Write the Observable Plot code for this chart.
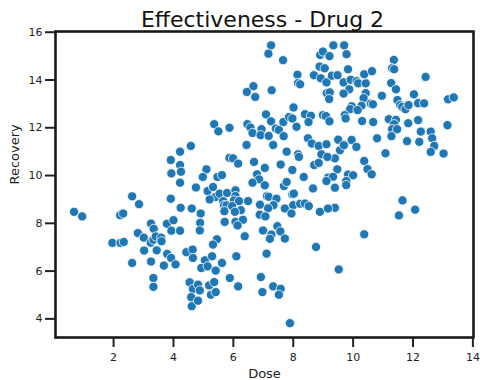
<!DOCTYPE html>
<html>
<head>
<meta charset="utf-8">
<script src="https://cdn.jsdelivr.net/npm/d3@7"></script>
<script src="https://cdn.jsdelivr.net/npm/@observablehq/plot@0.6"></script>
<style>
  html, body { margin: 0; padding: 0; background: white; }
</style>
</head>
<body>
<div id="chart"></div>
<script>
const title = "Effectiveness - Drug 2";
const xLabel = "Dose";
const yLabel = "Recovery";
const xTicks = [2, 4, 6, 8, 10, 12, 14];
const yTicks = [4, 6, 8, 10, 12, 14, 16];

const dose = [
  7.26,7.17,7.66,8.14,8.69,8.16,8.23,6.67,6.45,6.73,7.28,8.01,7.09,7.26,7.67,7.86,7.97,8.39,8.59,8.51,8.99,9.09,9.21,
  5.36,5.50,5.87,6.47,6.57,6.64,6.94,6.91,7.18,7.42,7.52,7.68,8.11,9.34,8.90,8.99,9.21,8.88,9.05,8.92,9.11,9.12,9.22,9.20,9.29,
  9.70,9.78,9.83,9.48,9.68,9.92,10.12,10.17,10.42,10.37,10.63,9.87,9.68,10.42,10.35,10.28,9.95,9.90,10.15,10.59,10.66,9.72,9.75,10.30,10.67,
  10.96,11.36,11.30,11.37,11.27,11.43,11.48,11.57,11.64,11.75,11.85,12.03,12.17,12.37,12.42,11.19,11.43,11.37,11.30,11.47,11.84,12.17,12.26,12.59,13.15,13.17,13.36,
  9.50,9.95,9.56,9.69,10.11,10.80,11.28,11.80,12.21,12.64,12.71,12.59,13.02,11.08,10.37,10.48,10.62,9.39,9.47,9.83,10.00,9.77,9.77,9.39,9.39,11.65,12.07,11.53,10.37,9.52,
  4.58,4.22,3.91,4.22,4.25,3.93,4.22,4.75,2.62,2.85,3.91,4.24,4.61,0.68,0.95,2.22,2.32,
  3.25,3.34,3.78,4.00,3.93,4.22,2.81,3.01,3.24,3.33,3.41,3.59,3.60,1.96,2.23,2.34,
  3.02,3.44,3.79,3.92,4.07,2.62,3.25,3.68,3.33,3.33,4.43,4.64,4.65,4.54,4.65,4.59,4.61,
  7.33,6.44,8.49,8.62,8.85,9.11,8.94,9.14,8.16,8.19,7.78,5.87,5.99,6.16,6.69,7.05,7.58,7.97,8.70,8.85,
  5.10,4.98,5.47,5.62,6.79,6.86,6.64,7.05,8.35,9.16,9.33,9.11,7.69,7.78,7.97,8.02,8.66,
  5.14,5.32,5.40,5.54,5.79,6.07,6.07,6.02,6.19,6.49,5.21,5.66,5.69,5.77,5.96,7.12,7.18,7.44,6.89,7.34,7.16,7.72,8.00,8.23,8.39,8.52,
  4.91,5.70,6.25,6.05,7.94,8.89,9.16,6.88,7.07,4.89,5.71,6.07,6.32,6.14,4.88,6.99,7.47,7.27,7.57,6.38,5.45,7.22,
  5.32,7.72,8.76,5.05,5.29,5.62,4.93,5.14,5.41,6.10,7.11,5.88,6.16,6.92,7.33,7.58,7.52,6.97,4.82,4.88,5.19,5.25,5.41,5.36,4.82,7.89
];
const recovery = [
  15.45,15.10,14.83,14.22,14.20,13.87,13.82,13.74,13.50,13.29,13.57,12.85,12.56,12.27,12.24,12.45,12.39,12.57,12.50,12.24,12.53,12.49,12.27,
  12.15,11.85,12.00,12.15,12.01,11.78,11.94,11.69,11.66,11.97,11.91,11.65,12.04,15.45,15.05,15.19,15.00,14.56,14.49,14.07,13.90,13.45,13.48,13.20,14.18,
  15.45,15.08,14.45,14.20,13.90,14.01,13.95,13.86,13.86,14.24,14.37,13.61,13.43,13.45,13.24,12.92,12.90,12.78,12.74,13.01,12.98,12.53,12.39,12.28,12.24,
  13.34,14.84,14.49,14.45,13.87,13.61,13.16,12.95,12.88,12.78,12.95,13.40,13.03,13.02,14.13,12.36,12.33,12.15,11.94,11.94,12.19,12.32,11.84,11.84,12.11,13.19,13.27,
  11.50,11.49,11.06,11.27,11.20,11.56,11.65,11.44,11.41,11.56,11.24,10.99,10.92,10.93,10.61,10.27,10.05,10.72,10.26,10.04,10.01,9.77,9.60,9.49,8.65,8.96,8.57,8.33,7.54,6.07,
  11.24,11.00,10.65,10.44,10.16,10.09,9.70,9.50,9.13,8.80,9.03,8.65,8.62,8.48,8.29,8.34,8.41,
  7.99,7.77,7.98,8.13,7.69,7.69,7.59,7.40,7.19,7.31,7.45,7.40,7.25,7.18,7.18,7.22,
  6.86,6.87,6.72,6.55,6.28,6.34,6.40,6.23,5.71,5.34,6.79,6.90,6.55,5.53,5.25,4.91,4.53,
  11.28,11.28,11.56,11.34,11.24,11.31,10.89,10.78,10.89,10.78,11.00,10.74,10.72,10.50,10.57,10.32,10.46,10.23,10.44,10.53,
  10.26,9.94,9.94,10.02,10.05,9.84,9.70,9.59,9.94,9.91,9.95,9.77,9.56,9.73,9.21,9.24,9.46,
  9.35,9.52,9.10,9.24,9.27,9.38,9.14,8.96,8.93,8.93,9.00,8.93,8.76,8.75,8.72,9.14,9.11,9.03,8.78,8.76,8.63,8.62,8.76,8.82,8.83,8.72,
  8.41,8.51,8.55,8.48,8.41,8.48,8.62,8.36,8.29,8.02,8.06,8.06,8.15,7.91,7.70,7.70,7.88,7.53,7.66,7.46,7.33,7.35,
  7.11,7.36,7.01,6.45,6.62,6.34,6.13,6.20,6.02,6.62,6.73,5.71,5.36,5.75,5.36,5.26,5.01,5.12,5.43,5.19,5.40,5.01,5.12,5.54,4.76,3.82
];

const data = dose.map((d, i) => ({dose: d, recovery: recovery[i]}));

const plot = Plot.plot({
  width: 480,
  height: 380,
  marginLeft: 55,
  marginRight: 7,
  marginTop: 31,
  marginBottom: 43,
  style: {fontFamily: "DejaVu Sans", fontSize: "11px", color: "#222", background: "white", overflow: "visible"},
  x: {domain: [0.06, 14.02]},
  y: {domain: [3.22, 16.03]},
  marks: [
    Plot.dot(data, {x: "dose", y: "recovery", r: 4.6, fill: "#1f77b4", stroke: "white", strokeWidth: 0.8}),
    Plot.frame({stroke: "#1a1a1a", strokeWidth: 2.6}),
    Plot.axisX(xTicks, {tickSize: 10, strokeWidth: 2, tickPadding: 6, fontSize: 11, label: null}),
    Plot.axisY(yTicks, {tickSize: 10, strokeWidth: 2, tickPadding: 3, fontSize: 11, label: null}),
    Plot.text([title], {frameAnchor: "top", dy: -5, dx: -2, lineAnchor: "bottom", fontSize: 22, fill: "#111"}),
    Plot.text([xLabel], {frameAnchor: "bottom", dy: 40, fontSize: 13, fill: "#222"}),
    Plot.text([yLabel], {frameAnchor: "left", dx: -41, rotate: -90, fontSize: 13, fill: "#222"})
  ]
});
document.getElementById("chart").appendChild(plot);
</script>
</body>
</html>
